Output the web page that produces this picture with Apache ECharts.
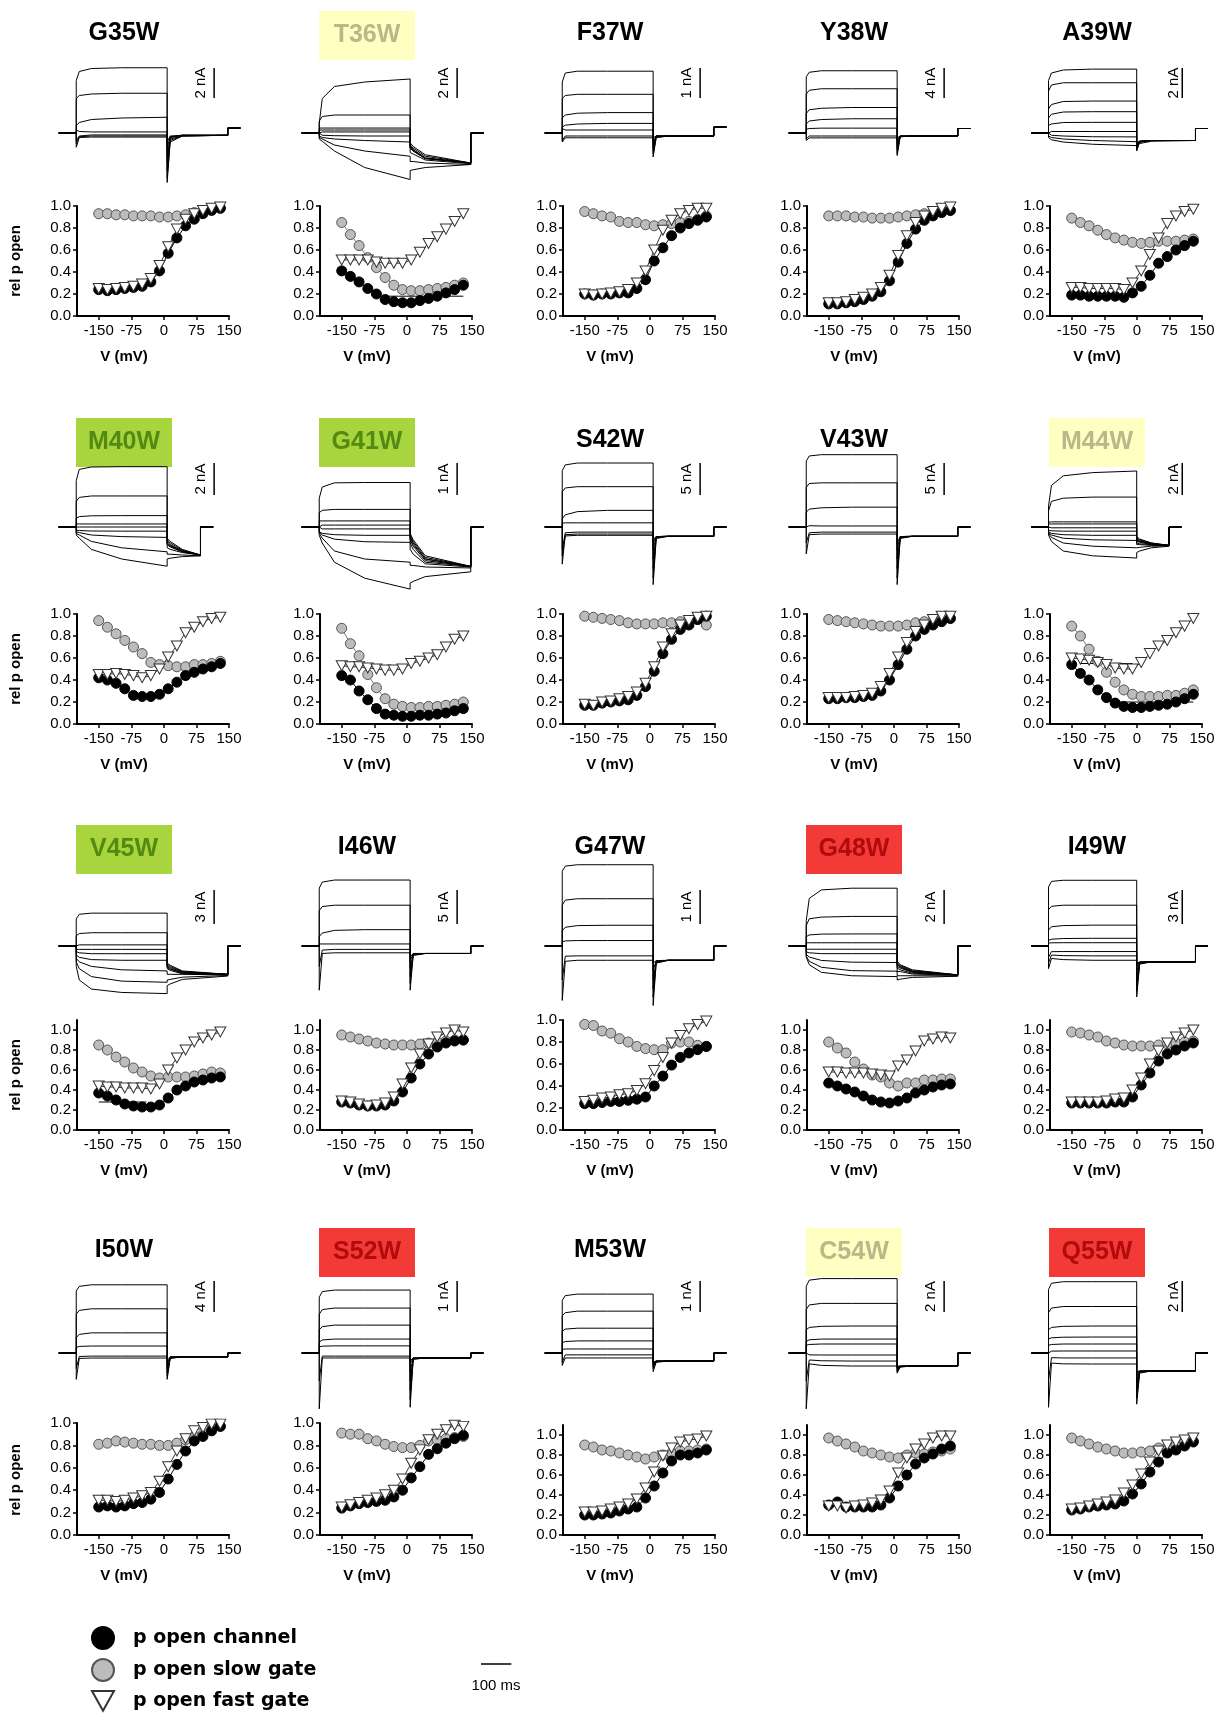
<!DOCTYPE html>
<html><head><meta charset="utf-8">
<script src="https://cdn.jsdelivr.net/npm/echarts@6/dist/echarts.min.js"></script>
<style>html,body{margin:0;padding:0;background:#fff}#c{width:1219px;height:1715px}</style>
</head><body><div id="c"></div>
<script>
// ---------------- DATA ----------------
const V = [-150,-130,-110,-90,-70,-50,-30,-10,10,30,50,70,90,110,130];
const MUTANTS = ['G35W','T36W','F37W','Y38W','A39W','M40W','G41W','S42W','V43W','M44W','V45W','I46W','G47W','G48W','I49W','I50W','S52W','M53W','C54W','Q55W'];
const HIGHLIGHT = {T36W:'yellow',M40W:'green',G41W:'green',M44W:'yellow',V45W:'green',G48W:'red',S52W:'red',C54W:'yellow',Q55W:'red'};
const BAR_NA = [2,2,1,4,2, 2,1,5,5,2, 3,5,1,2,3, 4,1,1,2,2];
const P_MAX = [1,1,1,1,1, 1,1,1,1,1, 1.1,1.1,1,1.1,1.1, 1,1,1.1,1.1,1.1];
const TAIL_END_MS = [500,500,500,500,500, 410,500,500,500,410, 500,500,500,500,500, 500,500,500,500,500];
const END_LEVEL_NA = [0.33,0,0.2,0.6,0.3, 0,0,0,0,0, 0,0,0,0,0, 0,0,0,0,0];
const X_TICKS = [-150,-75,0,75,150];
const Y_TICKS = [0,0.2,0.4,0.6,0.8,1.0];
const PULSE_T = [0,10,50,150,300];
const TAIL_T = [300,310,350];

// p open: channel (black), slow gate (grey), fast gate (triangles)
const G35W_channel=[0.24,0.23,0.24,0.25,0.26,0.27,0.31,0.41,0.57,0.71,0.82,0.88,0.93,0.96,0.98];
const G35W_slow=[0.93,0.93,0.92,0.92,0.91,0.91,0.91,0.90,0.90,0.91,0.92,0.94,0.96,0.97,0.98];
const G35W_fast=[0.25,0.24,0.25,0.26,0.27,0.29,0.34,0.46,0.63,0.79,0.88,0.93,0.96,0.98,0.99];
const T36W_channel=[0.41,0.36,0.31,0.25,0.20,0.15,0.13,0.12,0.12,0.14,0.16,0.18,0.21,0.24,0.28];
const T36W_slow=[0.85,0.74,0.64,0.53,0.44,0.35,0.28,0.24,0.23,0.23,0.24,0.25,0.26,0.28,0.30];
const T36W_fast=[0.51,0.51,0.51,0.51,0.49,0.48,0.48,0.48,0.51,0.58,0.66,0.72,0.79,0.86,0.93];
const F37W_channel=[0.20,0.19,0.20,0.20,0.21,0.21,0.25,0.33,0.50,0.62,0.73,0.80,0.84,0.87,0.90];
const F37W_slow=[0.95,0.93,0.91,0.90,0.86,0.85,0.85,0.83,0.82,0.83,0.84,0.85,0.86,0.88,0.91];
const F37W_fast=[0.20,0.19,0.20,0.21,0.22,0.24,0.30,0.41,0.60,0.78,0.87,0.93,0.96,0.98,0.98];
const Y38W_channel=[0.11,0.11,0.12,0.13,0.15,0.18,0.22,0.32,0.49,0.66,0.79,0.87,0.91,0.94,0.96];
const Y38W_slow=[0.91,0.91,0.91,0.90,0.90,0.89,0.89,0.89,0.90,0.91,0.92,0.93,0.94,0.95,0.96];
const Y38W_fast=[0.12,0.12,0.13,0.15,0.17,0.20,0.26,0.37,0.55,0.73,0.85,0.91,0.95,0.98,0.99];
const A39W_channel=[0.19,0.19,0.18,0.18,0.18,0.18,0.17,0.21,0.27,0.37,0.48,0.54,0.60,0.64,0.68];
const A39W_slow=[0.89,0.85,0.82,0.78,0.74,0.71,0.69,0.67,0.66,0.67,0.68,0.68,0.68,0.69,0.70];
const A39W_fast=[0.26,0.26,0.25,0.25,0.25,0.25,0.24,0.30,0.41,0.56,0.71,0.84,0.91,0.95,0.97];
const M40W_channel=[0.42,0.40,0.37,0.32,0.26,0.25,0.25,0.27,0.32,0.38,0.44,0.47,0.50,0.52,0.55];
const M40W_slow=[0.94,0.88,0.82,0.76,0.70,0.64,0.56,0.54,0.53,0.52,0.52,0.54,0.54,0.55,0.57];
const M40W_fast=[0.45,0.45,0.46,0.45,0.44,0.42,0.44,0.50,0.61,0.71,0.83,0.88,0.93,0.96,0.97];
const G41W_channel=[0.44,0.40,0.30,0.22,0.14,0.09,0.08,0.07,0.07,0.08,0.08,0.09,0.10,0.12,0.14];
const G41W_slow=[0.87,0.73,0.62,0.45,0.33,0.23,0.18,0.16,0.15,0.15,0.16,0.16,0.17,0.18,0.20];
const G41W_fast=[0.53,0.52,0.52,0.51,0.50,0.49,0.49,0.50,0.55,0.57,0.60,0.63,0.70,0.77,0.80];
const S42W_channel=[0.17,0.17,0.19,0.20,0.21,0.22,0.26,0.34,0.48,0.64,0.77,0.86,0.90,0.95,0.98];
const S42W_slow=[0.98,0.97,0.96,0.95,0.94,0.92,0.91,0.91,0.91,0.92,0.92,0.93,0.94,0.95,0.90];
const S42W_fast=[0.18,0.17,0.20,0.21,0.23,0.25,0.29,0.37,0.52,0.70,0.82,0.90,0.94,0.97,0.98];
const V43W_channel=[0.23,0.23,0.24,0.24,0.25,0.26,0.30,0.40,0.54,0.68,0.80,0.86,0.90,0.93,0.96];
const V43W_slow=[0.95,0.94,0.93,0.92,0.91,0.90,0.89,0.89,0.89,0.90,0.92,0.93,0.94,0.95,0.96];
const V43W_fast=[0.24,0.24,0.24,0.25,0.26,0.28,0.34,0.46,0.61,0.74,0.84,0.90,0.95,0.98,0.98];
const M44W_channel=[0.54,0.46,0.40,0.31,0.24,0.19,0.16,0.15,0.15,0.16,0.17,0.18,0.20,0.23,0.27];
const M44W_slow=[0.89,0.80,0.68,0.57,0.47,0.38,0.31,0.27,0.25,0.25,0.25,0.26,0.26,0.28,0.31];
const M44W_fast=[0.60,0.59,0.58,0.56,0.54,0.51,0.50,0.50,0.56,0.64,0.71,0.76,0.83,0.89,0.96];
const V45W_channel=[0.37,0.34,0.30,0.26,0.24,0.23,0.23,0.25,0.32,0.40,0.44,0.48,0.50,0.52,0.53];
const V45W_slow=[0.85,0.80,0.73,0.68,0.62,0.58,0.54,0.52,0.53,0.53,0.53,0.54,0.56,0.58,0.57];
const V45W_fast=[0.44,0.43,0.43,0.42,0.42,0.42,0.41,0.46,0.60,0.72,0.80,0.88,0.92,0.95,0.98];
const I46W_channel=[0.28,0.27,0.25,0.24,0.24,0.25,0.29,0.38,0.52,0.66,0.76,0.83,0.87,0.89,0.90];
const I46W_slow=[0.95,0.93,0.91,0.89,0.87,0.86,0.85,0.85,0.85,0.86,0.87,0.88,0.89,0.90,0.90];
const I46W_fast=[0.29,0.28,0.26,0.24,0.25,0.27,0.33,0.46,0.62,0.76,0.86,0.93,0.97,1.00,0.98];
const G47W_channel=[0.24,0.24,0.25,0.26,0.26,0.27,0.28,0.30,0.40,0.49,0.59,0.66,0.70,0.73,0.76];
const G47W_slow=[0.96,0.95,0.90,0.88,0.83,0.80,0.76,0.74,0.73,0.73,0.79,0.80,0.80,0.77,0.76];
const G47W_fast=[0.26,0.27,0.29,0.30,0.32,0.33,0.36,0.42,0.54,0.66,0.79,0.86,0.92,0.96,0.99];
const G48W_channel=[0.47,0.44,0.41,0.38,0.34,0.30,0.28,0.27,0.29,0.32,0.37,0.40,0.43,0.45,0.46];
const G48W_slow=[0.88,0.82,0.77,0.68,0.61,0.55,0.53,0.47,0.44,0.47,0.47,0.50,0.50,0.51,0.51];
const G48W_fast=[0.58,0.58,0.57,0.57,0.57,0.56,0.55,0.54,0.64,0.70,0.79,0.89,0.91,0.93,0.92];
const I49W_channel=[0.27,0.27,0.27,0.27,0.27,0.28,0.28,0.33,0.45,0.57,0.69,0.76,0.80,0.84,0.87];
const I49W_slow=[0.98,0.97,0.95,0.93,0.89,0.87,0.85,0.84,0.84,0.84,0.85,0.86,0.87,0.88,0.89];
const I49W_fast=[0.28,0.28,0.28,0.28,0.29,0.31,0.32,0.40,0.52,0.66,0.79,0.87,0.93,0.97,1.00];
const I50W_channel=[0.25,0.26,0.25,0.26,0.28,0.29,0.32,0.38,0.50,0.63,0.75,0.84,0.88,0.93,0.97];
const I50W_slow=[0.81,0.82,0.84,0.83,0.82,0.81,0.81,0.80,0.80,0.82,0.85,0.88,0.90,0.94,0.97];
const I50W_fast=[0.31,0.31,0.30,0.31,0.33,0.35,0.38,0.48,0.61,0.75,0.86,0.93,0.96,0.99,0.99];
const S52W_channel=[0.24,0.26,0.28,0.29,0.30,0.31,0.34,0.40,0.51,0.61,0.72,0.77,0.82,0.86,0.89];
const S52W_slow=[0.91,0.90,0.90,0.86,0.84,0.81,0.79,0.78,0.78,0.80,0.84,0.85,0.86,0.87,0.88];
const S52W_fast=[0.25,0.27,0.29,0.31,0.33,0.36,0.40,0.50,0.64,0.76,0.85,0.90,0.94,0.98,0.97];
const M53W_channel=[0.20,0.20,0.21,0.22,0.24,0.26,0.28,0.37,0.49,0.62,0.74,0.80,0.80,0.82,0.85];
const M53W_slow=[0.90,0.88,0.85,0.84,0.82,0.80,0.78,0.76,0.78,0.80,0.82,0.84,0.84,0.85,0.86];
const M53W_fast=[0.23,0.23,0.24,0.26,0.28,0.31,0.36,0.47,0.63,0.79,0.87,0.93,0.95,0.96,0.99];
const C54W_channel=[0.30,0.33,0.28,0.28,0.28,0.28,0.30,0.37,0.49,0.60,0.71,0.77,0.81,0.86,0.89];
const C54W_slow=[0.97,0.94,0.91,0.88,0.84,0.82,0.80,0.78,0.77,0.80,0.82,0.81,0.83,0.84,0.86];
const C54W_fast=[0.29,0.29,0.27,0.29,0.30,0.32,0.35,0.44,0.62,0.77,0.86,0.91,0.97,0.99,0.99];
const Q55W_channel=[0.25,0.26,0.28,0.29,0.30,0.31,0.34,0.41,0.51,0.63,0.73,0.82,0.85,0.89,0.93];
const Q55W_slow=[0.97,0.94,0.91,0.88,0.86,0.84,0.82,0.82,0.83,0.84,0.87,0.88,0.90,0.93,0.94];
const Q55W_fast=[0.26,0.27,0.29,0.31,0.33,0.35,0.42,0.50,0.61,0.73,0.84,0.90,0.93,0.95,0.97];

// horizontal reference lines seen in some plots: [V, p] pairs
const T36W_refLine=[[-50,0.18],[130,0.18]];
const M44W_refLine1=[[-130,0.55],[-10,0.55]];
const M44W_refLine2=[[-50,0.20],[130,0.20]];
const V45W_refLine=[[-150,0.28],[-40,0.28]];

// current traces (nA): each = [pulse values at PULSE_T..., tail values at TAIL_T..., value at tail end]
const G35W_traces=[[3.5,4.1,4.3,4.35,4.35,-3.3,-0.6,-0.2,-0.15],[2.3,2.5,2.6,2.65,2.65,-3.0,-0.5,-0.2,-0.15],[0.5,0.7,0.9,1.0,1.05,-2.5,-0.4,-0.2,-0.15],[0.2,0.1,0.07,0.07,0.07,-2.0,-0.3,-0.15,-0.15],[-0.5,-0.2,-0.13,-0.13,-0.13,-1.5,-0.3,-0.15,-0.15],[-0.7,-0.25,-0.2,-0.2,-0.2,-1.0,-0.25,-0.15,-0.15],[-0.95,-0.3,-0.27,-0.27,-0.27,-0.6,-0.2,-0.15,-0.15]];
const T36W_traces=[[0.65,2.3,3.1,3.4,3.6,-0.65,-0.9,-1.45,-2.0],[0.8,1.1,1.2,1.2,1.2,-0.8,-1.0,-1.55,-2.0],[0.33,0.33,0.33,0.33,0.33,-0.85,-1.1,-1.65,-2.0],[0.2,0.2,0.2,0.2,0.2,-0.9,-1.15,-1.7,-2.0],[0.07,0.07,0.07,0.07,0.07,-0.95,-1.2,-1.7,-2.0],[-0.13,-0.15,-0.18,-0.2,-0.2,-1.0,-1.2,-1.7,-2.0],[-0.2,-0.3,-0.4,-0.5,-0.6,-1.3,-1.4,-1.8,-2.05],[-0.3,-0.4,-0.8,-1.2,-1.55,-1.9,-1.9,-2.0,-2.1],[-0.4,-0.55,-1.2,-2.3,-3.1,-2.5,-2.45,-2.3,-2.1]];
const F37W_traces=[[1.7,2.0,2.06,2.06,2.06,-0.8,-0.15,-0.1,-0.1],[1.15,1.25,1.29,1.29,1.29,-0.7,-0.15,-0.1,-0.1],[0.5,0.6,0.66,0.68,0.68,-0.6,-0.12,-0.1,-0.1],[0.2,0.26,0.3,0.32,0.32,-0.5,-0.1,-0.1,-0.1],[0.15,0.1,0.1,0.1,0.1,-0.4,-0.1,-0.1,-0.1],[-0.25,-0.1,-0.1,-0.1,-0.1,-0.3,-0.1,-0.1,-0.1],[-0.3,-0.16,-0.16,-0.16,-0.16,-0.2,-0.1,-0.1,-0.1]];
const Y38W_traces=[[7.5,8.1,8.3,8.3,8.3,-3.0,-0.5,-0.4,-0.4],[5.2,5.7,5.9,5.9,5.9,-2.7,-0.5,-0.4,-0.4],[2.6,3.1,3.3,3.4,3.4,-2.3,-0.45,-0.4,-0.4],[1.2,1.6,1.8,1.9,1.9,-1.9,-0.45,-0.4,-0.4],[0.5,0.6,0.65,0.65,0.65,-1.5,-0.4,-0.4,-0.4],[-0.8,-0.4,-0.4,-0.4,-0.4,-1.0,-0.4,-0.4,-0.4],[-1.0,-0.65,-0.65,-0.65,-0.65,-0.7,-0.4,-0.4,-0.4]];
const A39W_traces=[[3.5,4.0,4.2,4.26,4.26,-1.2,-0.6,-0.5,-0.5],[2.8,3.2,3.35,3.35,3.35,-1.1,-0.6,-0.5,-0.5],[1.6,1.9,2.1,2.13,2.13,-1.0,-0.6,-0.5,-0.5],[1.0,1.25,1.4,1.42,1.42,-0.9,-0.55,-0.5,-0.5],[0.5,0.6,0.7,0.71,0.71,-0.8,-0.55,-0.5,-0.5],[0.1,0.1,0.1,0.1,0.1,-0.7,-0.55,-0.5,-0.5],[-0.1,-0.15,-0.2,-0.25,-0.26,-0.65,-0.55,-0.5,-0.5],[-0.2,-0.3,-0.4,-0.5,-0.58,-0.75,-0.6,-0.5,-0.5],[-0.3,-0.45,-0.6,-0.75,-0.84,-0.9,-0.7,-0.55,-0.5]];
const M40W_traces=[[2.9,3.6,3.75,3.77,3.77,-0.7,-0.9,-1.4,-1.75],[1.6,1.85,1.94,1.94,1.94,-0.8,-1.0,-1.45,-1.75],[0.55,0.65,0.7,0.71,0.71,-0.9,-1.1,-1.5,-1.75],[0.19,0.19,0.19,0.19,0.19,-1.0,-1.15,-1.5,-1.75],[0,0,0,0,0,-1.05,-1.2,-1.55,-1.75],[-0.2,-0.22,-0.25,-0.26,-0.26,-1.1,-1.25,-1.55,-1.75],[-0.3,-0.35,-0.5,-0.6,-0.65,-1.3,-1.4,-1.6,-1.75],[-0.4,-0.5,-0.9,-1.3,-1.55,-1.7,-1.7,-1.75,-1.8],[-0.5,-0.7,-1.4,-2.0,-2.45,-2.0,-1.95,-1.85,-1.8]];
const G41W_traces=[[0.9,1.25,1.38,1.39,1.39,-0.2,-0.4,-0.9,-1.23],[0.45,0.52,0.55,0.55,0.55,-0.25,-0.45,-0.95,-1.23],[0.19,0.19,0.19,0.19,0.19,-0.3,-0.5,-1.0,-1.23],[0.06,0.06,0.06,0.06,0.06,-0.35,-0.55,-1.0,-1.23],[-0.06,-0.06,-0.06,-0.06,-0.06,-0.4,-0.6,-1.05,-1.23],[-0.15,-0.2,-0.24,-0.26,-0.26,-0.5,-0.7,-1.1,-1.23],[-0.16,-0.25,-0.38,-0.46,-0.48,-0.7,-0.85,-1.15,-1.25],[-0.2,-0.35,-0.75,-1.0,-1.1,-1.2,-1.2,-1.25,-1.28],[-0.26,-0.5,-1.1,-1.6,-1.94,-1.75,-1.7,-1.55,-1.4]];
const S42W_traces=[[8.8,9.7,10,10,10,-9,-1.8,-1.45,-1.45],[5.5,6.1,6.3,6.3,6.3,-8,-1.7,-1.45,-1.45],[1.3,1.9,2.4,2.6,2.6,-6.5,-1.6,-1.45,-1.45],[0.6,0.65,0.65,0.65,0.65,-5,-1.5,-1.45,-1.45],[-3.5,-0.9,-0.8,-0.8,-0.8,-3.5,-1.5,-1.45,-1.45],[-5.8,-1.2,-1.1,-1.1,-1.1,-2.5,-1.5,-1.45,-1.45],[-4.5,-1.4,-1.3,-1.3,-1.3,-2.0,-1.5,-1.45,-1.45]];
const V43W_traces=[[10.3,11.1,11.3,11.3,11.3,-9,-1.8,-1.45,-1.45],[6.2,6.8,6.9,6.9,6.9,-8,-1.7,-1.45,-1.45],[2.3,2.8,3.0,3.1,3.1,-6.5,-1.6,-1.45,-1.45],[0.3,0.2,0.16,0.16,0.16,-5,-1.5,-1.45,-1.45],[-2.5,-0.9,-0.8,-0.8,-0.8,-3.5,-1.5,-1.45,-1.45],[-4.2,-1.2,-1.1,-1.1,-1.1,-2.5,-1.5,-1.45,-1.45]];
const M44W_traces=[[1.3,2.6,3.2,3.4,3.5,-0.6,-0.75,-1.0,-1.15],[1.0,1.6,1.8,1.87,1.87,-0.7,-0.8,-1.0,-1.15],[0.3,0.32,0.32,0.32,0.32,-0.75,-0.85,-1.05,-1.15],[0.19,0.19,0.19,0.19,0.19,-0.8,-0.9,-1.05,-1.15],[-0.05,-0.05,-0.05,-0.05,-0.05,-0.85,-0.9,-1.05,-1.15],[-0.2,-0.24,-0.26,-0.26,-0.26,-0.9,-0.95,-1.1,-1.15],[-0.3,-0.4,-0.48,-0.52,-0.52,-1.0,-1.05,-1.1,-1.15],[-0.35,-0.5,-0.7,-0.8,-0.84,-1.1,-1.1,-1.15,-1.17],[-0.4,-0.65,-1.0,-1.2,-1.3,-1.3,-1.27,-1.2,-1.18],[-0.5,-0.9,-1.5,-1.8,-1.94,-1.6,-1.5,-1.3,-1.2]];
const V45W_traces=[[2.4,2.8,2.9,2.9,2.9,-1.5,-1.7,-2.2,-2.5],[0.9,1.1,1.17,1.17,1.17,-1.6,-1.8,-2.25,-2.5],[0.1,0.1,0.1,0.1,0.1,-1.7,-1.9,-2.3,-2.5],[-0.3,-0.3,-0.3,-0.3,-0.3,-1.8,-2.0,-2.35,-2.5],[-0.5,-0.6,-0.68,-0.68,-0.68,-1.9,-2.05,-2.4,-2.5],[-0.8,-1.0,-1.2,-1.26,-1.26,-2.0,-2.15,-2.45,-2.52],[-1.1,-1.4,-1.8,-2.1,-2.2,-2.5,-2.5,-2.5,-2.55],[-1.4,-2.0,-2.7,-3.1,-3.2,-3.0,-2.95,-2.75,-2.6],[-1.8,-3.0,-3.8,-4.1,-4.2,-3.5,-3.35,-2.95,-2.65]];
const I46W_traces=[[8.5,9.4,9.7,9.7,9.7,-6.5,-1.4,-1.1,-1.1],[5.2,5.8,6.0,6.0,6.0,-5.5,-1.3,-1.1,-1.1],[1.4,1.9,2.3,2.4,2.4,-4.5,-1.2,-1.1,-1.1],[0.3,0.3,0.3,0.3,0.3,-3.3,-1.15,-1.1,-1.1],[-3.0,-0.6,-0.5,-0.5,-0.5,-2.2,-1.1,-1.1,-1.1],[-6.5,-1.1,-1.0,-1.0,-1.0,-1.6,-1.1,-1.1,-1.1]];
const G47W_traces=[[2.2,2.35,2.39,2.39,2.39,-1.75,-0.5,-0.42,-0.42],[1.2,1.35,1.39,1.39,1.39,-1.5,-0.5,-0.42,-0.42],[0.45,0.55,0.6,0.61,0.61,-1.25,-0.45,-0.42,-0.42],[0.12,0.15,0.16,0.16,0.16,-1.0,-0.45,-0.42,-0.42],[-1.0,-0.3,-0.29,-0.29,-0.29,-0.7,-0.45,-0.42,-0.42],[-1.6,-0.45,-0.42,-0.42,-0.42,-0.5,-0.43,-0.42,-0.42]];
const G48W_traces=[[1.5,2.8,3.3,3.4,3.4,-0.9,-1.1,-1.4,-1.7],[1.2,1.6,1.7,1.74,1.74,-1.0,-1.15,-1.45,-1.7],[0.55,0.65,0.7,0.71,0.71,-1.05,-1.2,-1.5,-1.7],[0.19,0.19,0.19,0.19,0.19,-1.1,-1.25,-1.5,-1.7],[-0.19,-0.19,-0.19,-0.19,-0.19,-1.2,-1.3,-1.55,-1.7],[-0.35,-0.4,-0.45,-0.45,-0.45,-1.3,-1.4,-1.6,-1.7],[-0.5,-0.65,-0.85,-0.95,-0.97,-1.5,-1.5,-1.65,-1.72],[-0.6,-0.9,-1.25,-1.45,-1.48,-1.75,-1.75,-1.75,-1.75],[-0.65,-1.1,-1.55,-1.75,-1.8,-2.0,-1.95,-1.85,-1.78]];
const I49W_traces=[[5.2,5.7,5.8,5.8,5.8,-4.5,-1.6,-1.4,-1.4],[3.2,3.5,3.6,3.6,3.6,-4.0,-1.55,-1.4,-1.4],[1.4,1.7,1.8,1.84,1.84,-3.4,-1.5,-1.4,-1.4],[0.5,0.6,0.66,0.68,0.68,-2.8,-1.45,-1.4,-1.4],[0.25,0.28,0.29,0.29,0.29,-2.2,-1.45,-1.4,-1.4],[-1.0,-0.5,-0.49,-0.49,-0.49,-1.8,-1.42,-1.4,-1.4],[-1.5,-0.8,-0.85,-0.87,-0.87,-1.6,-1.42,-1.4,-1.4],[-2.0,-1.1,-1.2,-1.26,-1.26,-1.5,-1.42,-1.4,-1.4]];
const I50W_traces=[[8.0,8.6,8.8,8.8,8.8,-3.4,-0.7,-0.5,-0.5],[5.0,5.5,5.7,5.7,5.7,-3.0,-0.65,-0.5,-0.5],[2.0,2.4,2.6,2.6,2.6,-2.5,-0.6,-0.5,-0.5],[0.7,0.85,0.9,0.9,0.9,-2.0,-0.55,-0.5,-0.5],[-2.0,-0.45,-0.4,-0.4,-0.4,-1.4,-0.5,-0.5,-0.5],[-3.4,-0.7,-0.65,-0.65,-0.65,-1.0,-0.5,-0.5,-0.5]];
const S52W_traces=[[1.8,1.98,2.03,2.03,2.03,-1.75,-0.2,-0.16,-0.16],[1.25,1.4,1.45,1.45,1.45,-1.5,-0.2,-0.16,-0.16],[0.75,0.85,0.9,0.9,0.9,-1.2,-0.18,-0.16,-0.16],[0.35,0.42,0.45,0.45,0.45,-0.9,-0.17,-0.16,-0.16],[0.2,0.22,0.23,0.23,0.23,-0.6,-0.17,-0.16,-0.16],[-0.9,-0.1,-0.1,-0.1,-0.1,-0.35,-0.16,-0.16,-0.16],[-1.8,-0.16,-0.16,-0.16,-0.16,-0.25,-0.16,-0.16,-0.16]];
const M53W_traces=[[1.7,1.85,1.9,1.9,1.9,-0.6,-0.3,-0.26,-0.26],[1.2,1.3,1.35,1.35,1.35,-0.5,-0.28,-0.26,-0.26],[0.7,0.77,0.8,0.8,0.8,-0.45,-0.27,-0.26,-0.26],[0.33,0.37,0.39,0.39,0.39,-0.4,-0.27,-0.26,-0.26],[0.12,0.13,0.13,0.13,0.13,-0.35,-0.26,-0.26,-0.26],[-0.3,-0.06,-0.06,-0.06,-0.06,-0.3,-0.26,-0.26,-0.26],[-0.4,-0.16,-0.16,-0.16,-0.16,-0.3,-0.26,-0.26,-0.26]];
const C54W_traces=[[4.3,4.7,4.8,4.8,4.8,-1.3,-0.9,-0.84,-0.84],[2.8,3.1,3.2,3.2,3.2,-1.2,-0.9,-0.84,-0.84],[1.5,1.65,1.72,1.74,1.74,-1.1,-0.88,-0.84,-0.84],[0.75,0.85,0.9,0.9,0.9,-1.0,-0.86,-0.84,-0.84],[0.5,0.55,0.58,0.58,0.58,-0.95,-0.86,-0.84,-0.84],[-0.1,-0.12,-0.13,-0.13,-0.13,-0.9,-0.85,-0.84,-0.84],[-1.8,-0.45,-0.5,-0.52,-0.52,-0.9,-0.85,-0.84,-0.84],[-3.6,-0.7,-0.8,-0.84,-0.84,-0.9,-0.85,-0.84,-0.84]];
const Q55W_traces=[[4.1,4.5,4.6,4.6,4.6,-3.3,-1.3,-1.16,-1.16],[2.6,2.9,3.0,3.0,3.0,-2.9,-1.25,-1.16,-1.16],[1.5,1.65,1.72,1.74,1.74,-2.5,-1.2,-1.16,-1.16],[0.9,0.98,1.02,1.03,1.03,-2.1,-1.2,-1.16,-1.16],[0.5,0.55,0.58,0.58,0.58,-1.8,-1.18,-1.16,-1.16],[0.1,0.12,0.13,0.13,0.13,-1.5,-1.17,-1.16,-1.16],[-1.8,-0.3,-0.32,-0.32,-0.32,-1.3,-1.17,-1.16,-1.16],[-3.5,-0.65,-0.7,-0.71,-0.71,-1.2,-1.16,-1.16,-1.16]];

const CHANNEL={G35W:G35W_channel,T36W:T36W_channel,F37W:F37W_channel,Y38W:Y38W_channel,A39W:A39W_channel,M40W:M40W_channel,G41W:G41W_channel,S42W:S42W_channel,V43W:V43W_channel,M44W:M44W_channel,V45W:V45W_channel,I46W:I46W_channel,G47W:G47W_channel,G48W:G48W_channel,I49W:I49W_channel,I50W:I50W_channel,S52W:S52W_channel,M53W:M53W_channel,C54W:C54W_channel,Q55W:Q55W_channel};
const SLOW={G35W:G35W_slow,T36W:T36W_slow,F37W:F37W_slow,Y38W:Y38W_slow,A39W:A39W_slow,M40W:M40W_slow,G41W:G41W_slow,S42W:S42W_slow,V43W:V43W_slow,M44W:M44W_slow,V45W:V45W_slow,I46W:I46W_slow,G47W:G47W_slow,G48W:G48W_slow,I49W:I49W_slow,I50W:I50W_slow,S52W:S52W_slow,M53W:M53W_slow,C54W:C54W_slow,Q55W:Q55W_slow};
const FAST={G35W:G35W_fast,T36W:T36W_fast,F37W:F37W_fast,Y38W:Y38W_fast,A39W:A39W_fast,M40W:M40W_fast,G41W:G41W_fast,S42W:S42W_fast,V43W:V43W_fast,M44W:M44W_fast,V45W:V45W_fast,I46W:I46W_fast,G47W:G47W_fast,G48W:G48W_fast,I49W:I49W_fast,I50W:I50W_fast,S52W:S52W_fast,M53W:M53W_fast,C54W:C54W_fast,Q55W:Q55W_fast};
const TRACES={G35W:G35W_traces,T36W:T36W_traces,F37W:F37W_traces,Y38W:Y38W_traces,A39W:A39W_traces,M40W:M40W_traces,G41W:G41W_traces,S42W:S42W_traces,V43W:V43W_traces,M44W:M44W_traces,V45W:V45W_traces,I46W:I46W_traces,G47W:G47W_traces,G48W:G48W_traces,I49W:I49W_traces,I50W:I50W_traces,S52W:S52W_traces,M53W:M53W_traces,C54W:C54W_traces,Q55W:Q55W_traces};
const REF_LINES={T36W:[T36W_refLine],M44W:[M44W_refLine1,M44W_refLine2],V45W:[V45W_refLine]};

// ---------------- LAYOUT ----------------
const COL_X=[77,320,563,807,1050];
const ROWS=[
 {title:33, base:133, barBottom:35, barLen:30, plotBottom:316},
 {title:440, base:527, barBottom:32, barLen:32, plotBottom:724},
 {title:847, base:946, barBottom:22, barLen:34, plotBottom:1130},
 {title:1250, base:1353, barBottom:41, barLen:31, plotBottom:1535}
];
const FONT='"Liberation Sans", Arial, Helvetica, sans-serif';
const BOX={yellow:{fill:'#ffffc2',text:'#b8b88a'},green:{fill:'#a8d43e',text:'#548a12'},red:{fill:'#f23a36',text:'#b00c0c'}};
const TRI='path://M0,0L10,0L5,9Z';
const T_PER_PX=1/0.30303; // ms per pixel
const T_MIN=-80, T_MAX=580; // trace time axis (ms), 200 px wide

const grids=[],xAxes=[],yAxes=[],series=[],graphics=[];
MUTANTS.forEach((m,k)=>{
  const r=Math.floor(k/5), c=k%5, R=ROWS[r], cx=COL_X[c];
  const ppn=R.barLen/BAR_NA[k];
  // ---- trace grid
  let gi=grids.length;
  grids.push({left:cx-25,top:R.base-80,width:200,height:150});
  xAxes.push({gridIndex:gi,type:'value',min:T_MIN,max:T_MAX,show:false});
  yAxes.push({gridIndex:gi,type:'value',min:-70/ppn,max:80/ppn,show:false});
  const tE=TAIL_END_MS[k], E=END_LEVEL_NA[k];
  TRACES[m].forEach(tr=>{
    const d=[[-58,0],[0,0]];
    PULSE_T.forEach((t,i)=>d.push([t,tr[i]]));
    TAIL_T.forEach((t,i)=>d.push([t,tr[5+i]]));
    d.push([tE,tr[8]],[tE,E],[tE+42,E]);
    series.push({type:'line',xAxisIndex:gi,yAxisIndex:gi,data:d,symbol:'none',silent:true,clip:false,
      lineStyle:{color:'#000',width:1},animation:false});
  });
  // scale bar (nA)
  const b0=R.barBottom/ppn;
  series.push({type:'line',xAxisIndex:gi,yAxisIndex:gi,data:[[455,b0],[455,b0+BAR_NA[k]]],symbol:'none',silent:true,
    lineStyle:{color:'#000',width:1.5},animation:false});
  graphics.push({type:'text',x:cx+124,y:R.base-R.barBottom-R.barLen/2,rotation:Math.PI/2,
    style:{text:BAR_NA[k]+' nA',font:'15px '+FONT,textAlign:'center',textVerticalAlign:'middle',fill:'#000'}});
  // ---- p open grid
  gi=grids.length;
  const h=(r===3&&P_MAX[k]===1)?112:110;
  grids.push({left:cx,top:R.plotBottom-h,width:152,height:h});
  xAxes.push({gridIndex:gi,type:'value',min:-200,max:150,
    axisLine:{onZero:false,lineStyle:{color:'#000',width:2}},
    axisTick:{customValues:X_TICKS,length:4,lineStyle:{color:'#000',width:1.5}},
    axisLabel:{customValues:X_TICKS,color:'#000',fontSize:15,fontFamily:FONT,margin:7},
    splitLine:{show:false}});
  yAxes.push({gridIndex:gi,type:'value',min:0,max:P_MAX[k],
    axisLine:{show:true,onZero:false,lineStyle:{color:'#000',width:2}},
    axisTick:{show:true,customValues:Y_TICKS,length:4,lineStyle:{color:'#000',width:1.5}},
    axisLabel:{customValues:Y_TICKS,color:'#000',fontSize:15,fontFamily:FONT,margin:6,formatter:v=>v.toFixed(1)},
    splitLine:{show:false}});
  (REF_LINES[m]||[]).forEach(L=>series.push({type:'line',xAxisIndex:gi,yAxisIndex:gi,data:L,symbol:'none',silent:true,
    lineStyle:{color:'#000',width:1},animation:false}));
  series.push({name:'p open slow gate',type:'line',xAxisIndex:gi,yAxisIndex:gi,data:V.map((v,i)=>[v,SLOW[m][i]]),
    symbol:'circle',symbolSize:10,itemStyle:{color:'#bcbcbc',borderColor:'#555',borderWidth:1},
    lineStyle:{color:'#777',width:1},silent:true,animation:false});
  series.push({name:'p open channel',type:'line',xAxisIndex:gi,yAxisIndex:gi,data:V.map((v,i)=>[v,CHANNEL[m][i]]),
    symbol:'circle',symbolSize:10,itemStyle:{color:'#000',borderColor:'#000',borderWidth:1},
    lineStyle:{color:'#000',width:1},silent:true,animation:false});
  series.push({name:'p open fast gate',type:'line',xAxisIndex:gi,yAxisIndex:gi,data:V.map((v,i)=>[v,FAST[m][i]]),
    symbol:TRI,symbolSize:[11,10],itemStyle:{color:'#fff',borderColor:'#333',borderWidth:1},
    lineStyle:{color:'#333',width:1},silent:true,animation:false});
  // ---- texts
  const tx=cx+47;
  if(HIGHLIGHT[m]){
    const B=BOX[HIGHLIGHT[m]];
    graphics.push({type:'rect',shape:{x:tx-48,y:R.title-22,width:96,height:49},style:{fill:B.fill}});
    graphics.push({type:'text',x:tx,y:R.title+2,style:{text:m,font:'bold 25px '+FONT,textAlign:'center',textVerticalAlign:'middle',fill:B.text}});
  } else {
    graphics.push({type:'text',x:tx,y:R.title,style:{text:m,font:'bold 25px '+FONT,textAlign:'center',textVerticalAlign:'middle',fill:'#000'}});
  }
  graphics.push({type:'text',x:tx,y:R.plotBottom+41,style:{text:'V (mV)',font:'bold 15px '+FONT,textAlign:'center',textVerticalAlign:'middle',fill:'#000'}});
  if(c===0){
    graphics.push({type:'text',x:16,y:R.plotBottom-55,rotation:Math.PI/2,style:{text:'rel p open',font:'bold 15px '+FONT,textAlign:'center',textVerticalAlign:'middle',fill:'#000'}});
  }
});
// time scale bar 100 ms (same ms-per-pixel as the traces)
const TIME_BAR_MS=[0,100];
let gi=grids.length;
grids.push({left:481,top:1660,width:100/T_PER_PX,height:8});
xAxes.push({gridIndex:gi,type:'value',min:0,max:100,show:false});
yAxes.push({gridIndex:gi,type:'value',min:-1,max:1,show:false});
series.push({type:'line',xAxisIndex:gi,yAxisIndex:gi,data:TIME_BAR_MS.map(t=>[t,0]),symbol:'none',silent:true,lineStyle:{color:'#000',width:1.5},animation:false});
graphics.push({type:'text',x:496,y:1686,style:{text:'100 ms',font:'15px '+FONT,textAlign:'center',textVerticalAlign:'middle',fill:'#000'}});

const chart=echarts.init(document.getElementById('c'),null,{renderer:'canvas'});
chart.setOption({
  animation:false,backgroundColor:'#fff',
  grid:grids,xAxis:xAxes,yAxis:yAxes,series:series,graphic:graphics,
  legend:{orient:'vertical',left:91,top:1626,height:95,padding:0,itemWidth:22,itemHeight:22,itemGap:8,selectedMode:false,
    data:[{name:'p open channel',icon:'circle'},{name:'p open slow gate',icon:'circle'},{name:'p open fast gate',icon:TRI}],
    textStyle:{fontFamily:'"DejaVu Sans", '+FONT,fontWeight:'bold',fontSize:19,color:'#000',padding:[0,0,0,14]}}
});
</script></body></html>
